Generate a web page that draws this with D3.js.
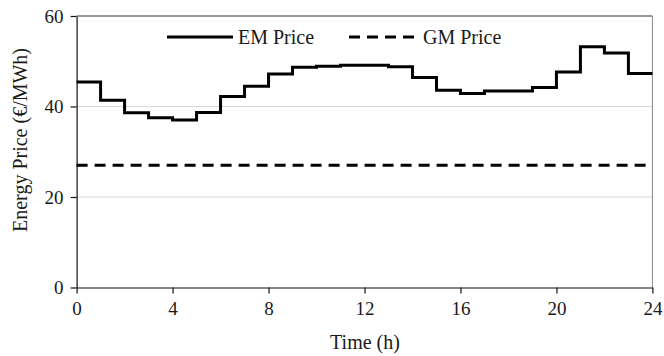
<!DOCTYPE html>
<html>
<head>
<meta charset="utf-8">
<script src="https://cdn.jsdelivr.net/npm/d3@7"></script>
<style>
  html, body { margin: 0; padding: 0; background: #fff; }
  svg { display: block; font-family: "Liberation Serif", "Times New Roman", serif; }
</style>
</head>
<body>
<svg id="chart" width="664" height="356"></svg>
<script>
// Hourly electricity-market (EM) price, one value per hour 0..23 (€/MWh)
const hours = d3.range(0, 24);
const emPrice = [45.4, 41.4, 38.6, 37.5, 37.0, 38.7, 42.2, 44.5, 47.2, 48.7, 48.9, 49.1,
                 49.1, 48.8, 46.4, 43.6, 42.9, 43.4, 43.4, 44.2, 47.6, 53.2, 51.8, 47.3];
// Flat gas-market (GM) price over the day
const gmPrice = 27;
const xTicks = [0, 4, 8, 12, 16, 20, 24];
const yTicks = [0, 20, 40, 60];
const seriesNames = ["EM Price", "GM Price"];

const svg = d3.select("#chart");
const x = d3.scaleLinear().domain([0, 24]).range([76.6, 652.4]);
const y = d3.scaleLinear().domain([0, 60]).range([287.5, 16]);

// Horizontal gridlines
svg.append("g")
  .selectAll("line")
  .data([20, 40])
  .join("line")
  .attr("x1", x(0)).attr("x2", x(24))
  .attr("y1", d => y(d)).attr("y2", d => y(d))
  .attr("stroke", "#d9d9d9").attr("stroke-width", 1);

// Plot frame: top and right edges
svg.append("line")
  .attr("x1", x(0)).attr("x2", x(24)).attr("y1", y(60)).attr("y2", y(60))
  .attr("stroke", "#333").attr("stroke-width", 1);
svg.append("line")
  .attr("x1", x(24)).attr("x2", x(24)).attr("y1", y(60)).attr("y2", y(0))
  .attr("stroke", "#888").attr("stroke-width", 1);

// Axes
const xAxis = svg.append("g")
  .attr("transform", `translate(0,${y(0)})`)
  .call(d3.axisBottom(x).tickValues(xTicks).tickSize(6).tickPadding(8).tickSizeOuter(0));
const yAxis = svg.append("g")
  .attr("transform", `translate(${x(0)},0)`)
  .call(d3.axisLeft(y).tickValues(yTicks).tickSize(6).tickPadding(7).tickSizeOuter(0));

[xAxis, yAxis].forEach(g => {
  g.select(".domain").attr("stroke", "#111").attr("stroke-width", 1.2);
  g.selectAll(".tick line").attr("stroke", "#111").attr("stroke-width", 1.2);
  g.selectAll(".tick text")
    .attr("fill", "#1a1a1a")
    .style("font-family", "'Liberation Serif', 'Times New Roman', serif")
    .style("font-size", "19px");
});

// EM price step line
const stepPoints = hours.map((h, i) => [h, emPrice[i]]);
stepPoints.push([24, emPrice[emPrice.length - 1]]);
const stepLine = d3.line()
  .x(d => x(d[0])).y(d => y(d[1]))
  .curve(d3.curveStepAfter);
svg.append("path")
  .datum(stepPoints)
  .attr("d", stepLine)
  .attr("fill", "none")
  .attr("stroke", "#000")
  .attr("stroke-width", 3)
  .attr("stroke-linejoin", "miter");

// GM price dashed line
svg.append("line")
  .attr("x1", x(0)).attr("x2", x(24))
  .attr("y1", y(gmPrice)).attr("y2", y(gmPrice))
  .attr("stroke", "#000").attr("stroke-width", 3)
  .attr("stroke-dasharray", "11,7");

// Axis titles
svg.append("text")
  .attr("x", 365).attr("y", 349)
  .attr("text-anchor", "middle")
  .attr("fill", "#1a1a1a")
  .style("font-size", "20px")
  .text("Time (h)");
svg.append("text")
  .attr("transform", "translate(27,140) rotate(-90)")
  .attr("text-anchor", "middle")
  .attr("fill", "#1a1a1a")
  .style("font-size", "20px")
  .text("Energy Price (€/MWh)");

// Legend
const legend = svg.append("g");
const legendItems = [
  { name: seriesNames[0], x1: 167, x2: 233, tx: 238, dash: null },
  { name: seriesNames[1], x1: 349, x2: 414, tx: 423, dash: "11,7" }
];
legendItems.forEach(it => {
  legend.append("line")
    .attr("x1", it.x1).attr("x2", it.x2).attr("y1", 37).attr("y2", 37)
    .attr("stroke", "#000").attr("stroke-width", 3)
    .attr("stroke-dasharray", it.dash);
  legend.append("text")
    .attr("x", it.tx).attr("y", 44)
    .attr("fill", "#1a1a1a")
    .style("font-size", "20px")
    .text(it.name);
});
</script>
</body>
</html>
